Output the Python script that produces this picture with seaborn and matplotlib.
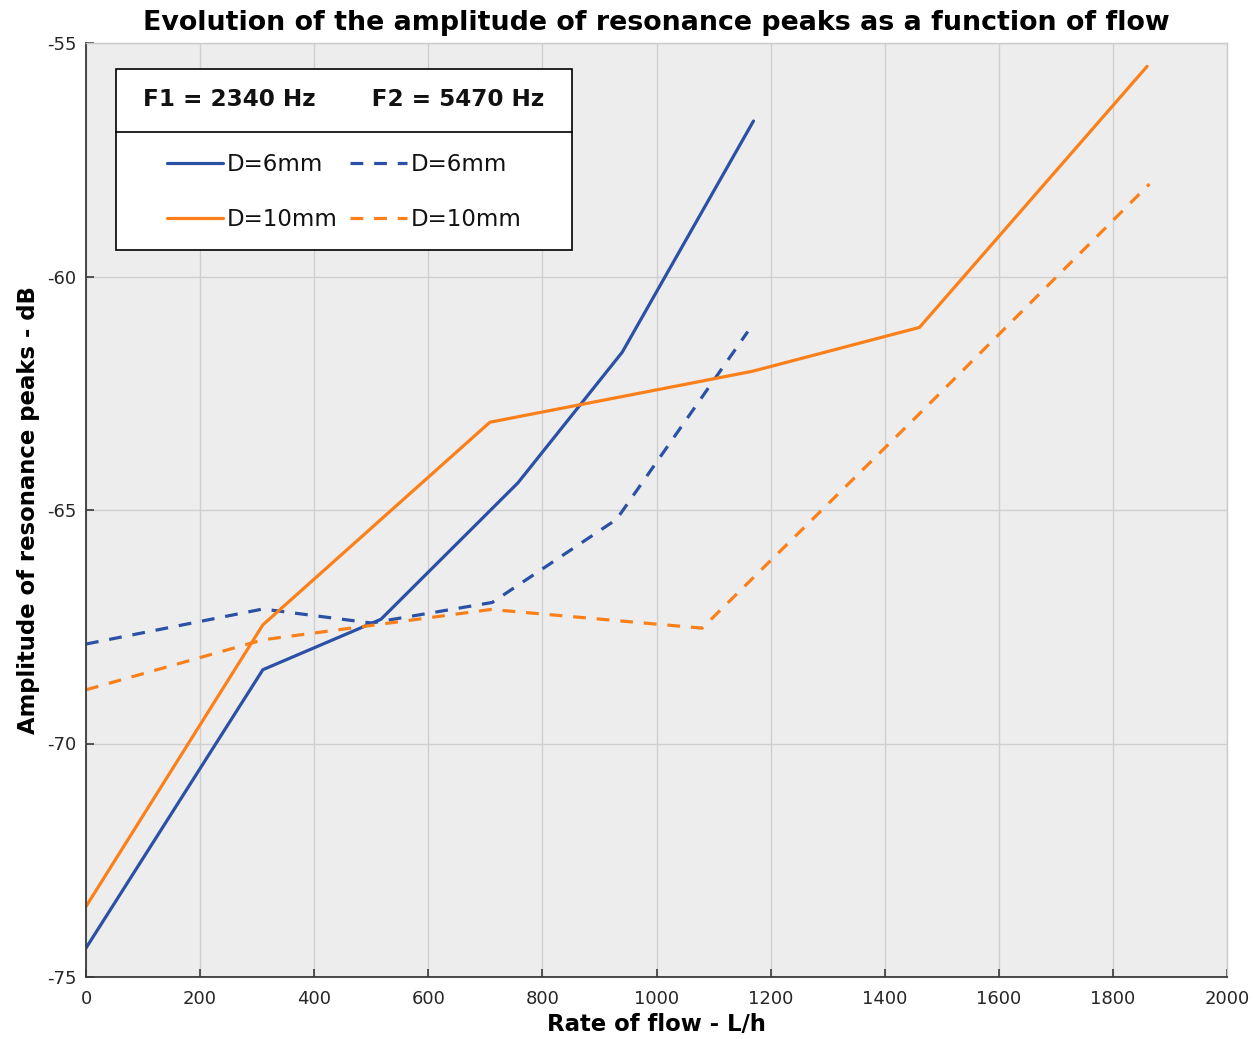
import numpy as np
import pandas as pd
import matplotlib
matplotlib.use("Agg")
import matplotlib.pyplot as plt
import seaborn as sns
from matplotlib.lines import Line2D

# ---- data ----
x_6mm_f1 = [0, 310, 517, 757, 940, 1170]
y_6mm_f1 = [-74.38, -68.42, -67.34, -64.42, -61.62, -56.67]

x_6mm_f2 = [0, 310, 500, 712, 930, 1160]
y_6mm_f2 = [-67.87, -67.12, -67.42, -66.98, -65.20, -61.18]

x_10mm_f1 = [0, 310, 708, 1168, 1461, 1860]
y_10mm_f1 = [-73.49, -67.46, -63.12, -62.03, -61.09, -55.50]

x_10mm_f2 = [0, 310, 710, 1080, 1460, 1864]
y_10mm_f2 = [-68.85, -67.78, -67.13, -67.53, -62.95, -58.02]

x_ticks = [0, 200, 400, 600, 800, 1000, 1200, 1400, 1600, 1800, 2000]
y_ticks = [-75, -70, -65, -60, -55]

title = "Evolution of the amplitude of resonance peaks as a function of flow"
xlabel = "Rate of flow - L/h"
ylabel = "Amplitude of resonance peaks - dB"
legend_title = " F1 = 2340 Hz       F2 = 5470 Hz "
legend_labels = ["D=6mm", "D=10mm", "D=6mm", "D=10mm"]

BLUE = "#2a51a6"
ORANGE = "#fb8019"

frames = []
for d, f, xs, ys in [("D=6mm", "F1", x_6mm_f1, y_6mm_f1),
                     ("D=6mm", "F2", x_6mm_f2, y_6mm_f2),
                     ("D=10mm", "F1", x_10mm_f1, y_10mm_f1),
                     ("D=10mm", "F2", x_10mm_f2, y_10mm_f2)]:
    frames.append(pd.DataFrame({"flow": xs, "amp": ys, "D": d, "F": f}))
df = pd.concat(frames, ignore_index=True)

sns.set_theme(style="white")
plt.rcParams["font.family"] = ["DejaVu Sans"]
plt.rcParams["axes.unicode_minus"] = False

fig = plt.figure(figsize=(12.53, 10.39), dpi=100)
ax = fig.add_axes([86 / 1253, 1 - 977 / 1039, (1227 - 86) / 1253, (977 - 43) / 1039])
ax.set_facecolor("#ededed")

DASH = (4.0, 3.4)
LW = 2.3
sns.lineplot(data=df, x="flow", y="amp", hue="D", style="F",
             palette={"D=6mm": BLUE, "D=10mm": ORANGE},
             dashes={"F1": "", "F2": DASH},
             hue_order=["D=6mm", "D=10mm"], style_order=["F1", "F2"],
             linewidth=LW, sort=True, estimator=None, legend=False, ax=ax)

ax.set_xlim(0, 2000)
ax.set_ylim(-75, -55)
ax.set_xticks(x_ticks)
ax.set_yticks(y_ticks)
ax.grid(True, color="#cfcfcf", linewidth=1.0)
ax.set_axisbelow(True)

for side in ["left", "bottom"]:
    ax.spines[side].set_color("#3a3a3a")
    ax.spines[side].set_linewidth(1.3)
for side in ["top", "right"]:
    ax.spines[side].set_color("#cccccc")
    ax.spines[side].set_linewidth(1.0)
    ax.spines[side].set_visible(True)

ax.tick_params(axis="both", direction="in", length=6, width=1.2, color="#3a3a3a",
               labelsize=13, labelcolor="#262626", left=True, bottom=True)
ax.tick_params(axis="x", pad=9)
ax.tick_params(axis="y", pad=7)

ax.set_title(title, fontsize=19.4, fontweight="bold", pad=9, color="black")
ax.set_xlabel(xlabel, fontsize=16.4, fontweight="bold", labelpad=4, color="black")
ax.set_ylabel(ylabel, fontsize=16.4, fontweight="bold", labelpad=5, color="black")

handles = [
    Line2D([], [], color=BLUE, lw=LW),
    Line2D([], [], color=ORANGE, lw=LW),
    Line2D([], [], color=BLUE, lw=LW, dashes=DASH),
    Line2D([], [], color=ORANGE, lw=LW, dashes=DASH),
]
leg = ax.legend(handles, legend_labels, ncol=2, loc="upper left",
                bbox_to_anchor=((116 - 86) / 1141, 1 - (69 - 43) / 934),
                frameon=True, fancybox=False, edgecolor="black", facecolor="white",
                framealpha=1.0, fontsize=16.5, title=legend_title,
                title_fontproperties={"weight": "bold", "size": 16.7},
                handlelength=2.45, handletextpad=0.17, columnspacing=0.55,
                labelspacing=1.37, borderpad=0.85, borderaxespad=0.0)
leg.get_frame().set_linewidth(1.2)
leg._legend_box.sep = 30
for t in leg.get_texts():
    t.set_color("#111111")
leg.get_title().set_color("#111111")

fig.canvas.draw()
fb = leg.get_frame().get_window_extent()
tb = leg.get_title().get_window_extent()
eb = leg.get_texts()[0].get_window_extent()
tc = (tb.y0 + tb.y1) / 2
ec = (eb.y0 + eb.y1) / 2
ysep = (tc + ec) / 2
inv = fig.transFigure.inverted()
(x0f, yf) = inv.transform((fb.x0, ysep))
(x1f, _) = inv.transform((fb.x1, ysep))
fig.add_artist(Line2D([x0f, x1f], [yf, yf], color="black", lw=1.2, zorder=10))

fig.savefig("out.png", dpi=100)
